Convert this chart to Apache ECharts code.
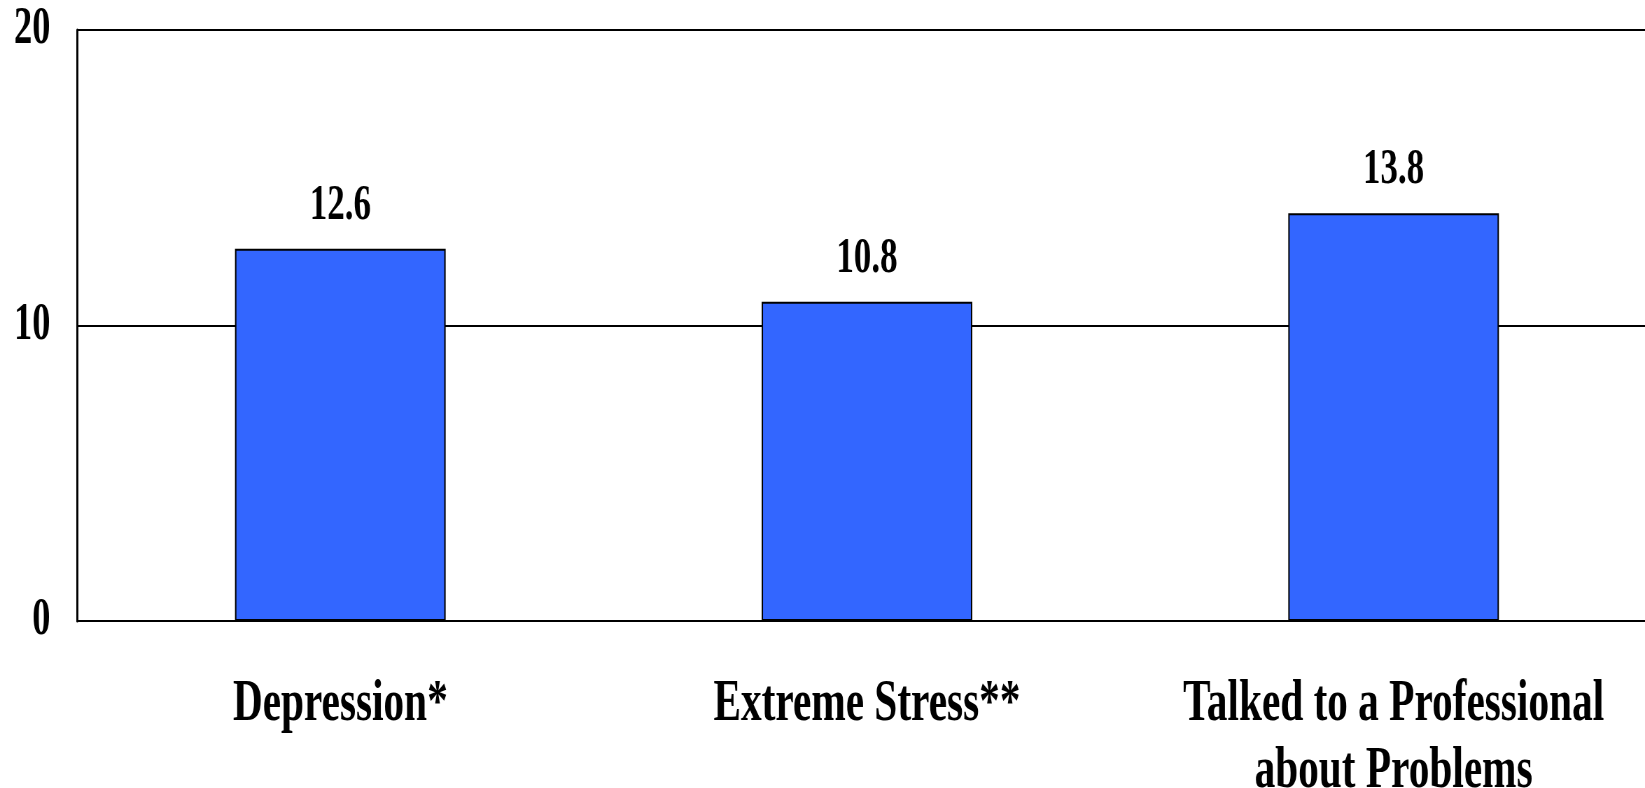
<!DOCTYPE html>
<html>
<head>
<meta charset="utf-8">
<script src="https://cdn.jsdelivr.net/npm/echarts@6/dist/echarts.min.js"></script>
<style>
html,body{margin:0;padding:0;overflow:hidden;background:#fff;width:1645px;height:788px;}
#wrap{width:1645px;height:788px;overflow:hidden;position:relative;}
#chart{width:2400px;height:788px;transform:scaleX(0.7);transform-origin:0 0;position:absolute;left:0;top:0;}
</style>
</head>
<body>
<div id="wrap"><div id="chart"></div></div>
<script>
const categories = ["Depression*", "Extreme Stress**", "Talked to a Professional\nabout Problems"];
const values = [12.6, 10.8, 13.8];
const yTicks = [0, 10, 20];

const FONT = '"Liberation Serif", "Times New Roman", serif';
const chart = echarts.init(document.getElementById('chart'));
chart.setOption({
  backgroundColor: '#ffffff',
  animation: false,
  grid: {left: 110, right: 33, top: 30, bottom: 167, containLabel: false, outerBoundsMode: 'none'},
  xAxis: {
    type: 'category',
    data: categories,
    axisLine: {show: true, lineStyle: {color: '#000', width: 2}},
    axisTick: {show: false},
    axisLabel: {
      interval: 0, margin: 50, color: '#000', fontFamily: FONT, fontWeight: 'bold',
      fontSize: 59, lineHeight: 67
    }
  },
  yAxis: {
    type: 'value',
    min: yTicks[0], max: yTicks[yTicks.length - 1], interval: 10,
    axisLine: {show: true, lineStyle: {color: '#000', width: 3}},
    axisTick: {show: false},
    splitLine: {show: true, lineStyle: {color: '#000', width: 2}},
    axisLabel: {margin: 38, color: '#000', fontFamily: FONT, fontWeight: 'bold', fontSize: 52}
  },
  series: [{
    type: 'bar',
    data: values,
    barWidth: '40%',
    itemStyle: {color: '#3366FF', borderColor: '#000', borderWidth: 2},
    label: {
      show: true, position: 'top', distance: 18, color: '#000',
      fontFamily: FONT, fontWeight: 'bold', fontSize: 50,
      formatter: p => p.value.toFixed(1)
    }
  }]
});
</script>
</body>
</html>
